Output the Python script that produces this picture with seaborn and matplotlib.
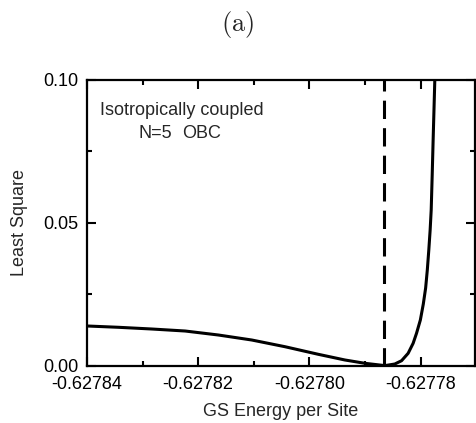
import numpy as np
import pandas as pd
import matplotlib
matplotlib.use("Agg")
import matplotlib.pyplot as plt
from matplotlib.ticker import FormatStrFormatter, MultipleLocator
import seaborn as sns

# Least-square residual versus trial ground-state energy per site
energy = [-0.62784000, -0.62783432, -0.62782832, -0.62782234, -0.62781636,
          -0.62781036, -0.62780438, -0.62779839, -0.62779360, -0.62779000,
          -0.62778659, -0.62778611, -0.62778462, -0.62778341, -0.62778223,
          -0.62778133, -0.62778072, -0.62778003, -0.62777950, -0.62777908,
          -0.62777878, -0.62777851, -0.62777827, -0.62777808, -0.62777790,
          -0.62777774, -0.62777757, -0.62777743, -0.62777732]
least_square = [0.01384, 0.01338, 0.01278, 0.01208, 0.01068,
                0.00893, 0.00658, 0.00392, 0.00193, 0.00077,
                0.00000, 0.00005, 0.00053, 0.00168, 0.00427,
                0.00778, 0.01128, 0.01594, 0.02154, 0.02715,
                0.03345, 0.04046, 0.04746, 0.05447, 0.06673,
                0.07839, 0.09019, 0.10000, 0.10701]

# Energy at the minimum of the residual
e_min = -0.62778659

x_ticks = [-0.62784, -0.62782, -0.62780, -0.62778]
y_ticks = [0.00, 0.05, 0.10]

sns.set_style("ticks")
plt.rcParams["font.family"] = ["Liberation Sans", "DejaVu Sans"]
plt.rcParams["mathtext.fontset"] = "cm"

W, H = 476, 423
df = pd.DataFrame({"energy": energy, "ls": least_square})

fig = plt.figure(figsize=(W / 100, H / 100), dpi=100)
ax = fig.add_axes([87 / W, (H - 365.5) / H, 388 / W, 285.5 / H])

sns.lineplot(data=df, x="energy", y="ls", ax=ax, color="black",
             linewidth=2.2, sort=False, solid_joinstyle="round")
ax.axvline(e_min, color="black", linewidth=2.2, linestyle=(0, (6, 3)))

ax.set_xlim(-0.62784, -0.6277702)
ax.set_ylim(0.0, 0.10)
ax.set_xticks(x_ticks)
ax.set_yticks(y_ticks)
ax.xaxis.set_minor_locator(MultipleLocator(0.00001))
ax.yaxis.set_minor_locator(MultipleLocator(0.025))
ax.xaxis.set_major_formatter(FormatStrFormatter("%.5f"))
ax.yaxis.set_major_formatter(FormatStrFormatter("%.2f"))

ax.tick_params(which="both", direction="in", top=True, right=True,
               labelsize=13, color="black", labelcolor="black")
ax.tick_params(which="major", length=6.5, width=1.5)
ax.tick_params(which="minor", length=3.6, width=1.5)
ax.tick_params(axis="x", which="major", pad=7.5)
ax.tick_params(axis="y", which="major", pad=6)
for s in ax.spines.values():
    s.set_linewidth(1.6)
    s.set_color("black")

ax.set_xlabel("GS Energy per Site", fontsize=13)
ax.set_ylabel("Least Square", fontsize=13)
ax.xaxis.set_label_coords(0.5, (365.5 - 411) / 285.5)
ax.xaxis.label.set_va("center")
ax.yaxis.set_label_coords((20 - 87) / 388, 0.5)
ax.yaxis.label.set_va("center")

fig.text(100 / W, 1 - 115 / H, "Isotropically coupled", fontsize=13,
         va="baseline", ha="left")
fig.text(138 / W, 1 - 138.5 / H, "N=5", fontsize=13,
         va="baseline", ha="left")
fig.text(182 / W, 1 - 138.5 / H, "OBC", fontsize=13,
         va="baseline", ha="left")

fig.text(0.5, 1 - 24 / H, r"$\mathrm{(a)}$", ha="center", va="center",
         fontsize=19)

fig.savefig("out.png", dpi=100)
